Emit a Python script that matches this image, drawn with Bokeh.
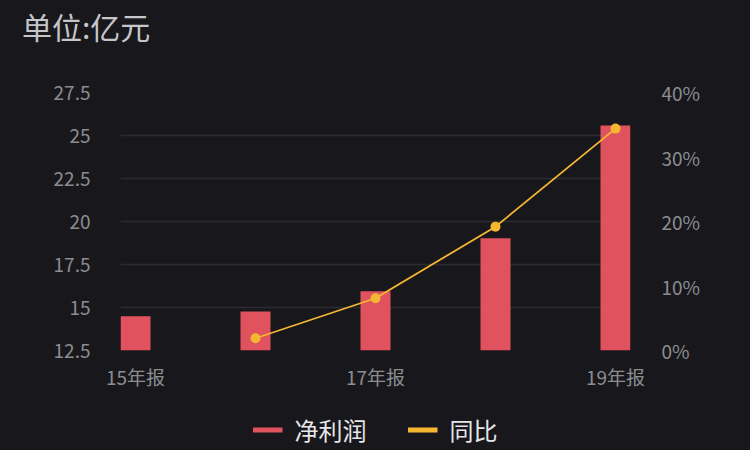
from bokeh.plotting import figure
from bokeh.layouts import column
from bokeh.models import (Range1d, LinearAxis, FixedTicker, Legend, LegendItem,
                          ColumnDataSource, Div)
from bokeh.embed import file_html
from bokeh.resources import INLINE

# ---- data ----
categories = ["15年报", "16年报", "17年报", "18年报", "19年报"]
net_profit = [14.49, 14.77, 15.95, 19.03, 25.58]          # 亿元
yoy_pct = [None, 1.9, 8.1, 19.2, 34.4]                      # %
left_ticks = [12.5, 15, 17.5, 20, 22.5, 25, 27.5]
right_ticks = [0, 10, 20, 30, 40]
shown_x_labels = ["15年报", "17年报", "19年报"]
title_text = "单位:亿元"
series_names = ["净利润", "同比"]

FONT = "Noto Sans CJK SC"
BG = "#18181c"
BAR = "#e0525e"
LINE = "#f5b731"
GRID = "#2b2b31"
TICK = "#8c8c91"

idx = list(range(len(categories)))
lx = [i for i, v in zip(idx, yoy_pct) if v is not None]
ly = [v for v in yoy_pct if v is not None]

# ---- title ----
top = Div(text=title_text, width=750, height=50, margin=0,
          styles={"font-family": FONT, "font-size": "30px", "line-height": "30px",
                  "color": "#c6c6ca", "padding-top": "11px", "padding-left": "22px",
                  "box-sizing": "border-box", "background-color": BG})

# ---- main chart ----
p = figure(width=750, height=358, output_backend="svg", toolbar_location=None,
           x_range=Range1d(-0.125, len(categories) - 1 + 0.125),
           y_range=Range1d(left_ticks[0], left_ticks[-1]),
           min_border_left=120, min_border_right=120,
           min_border_top=42, min_border_bottom=58)
p.background_fill_color = BG
p.border_fill_color = BG
p.outline_line_color = None

p.extra_y_ranges = {"pct": Range1d(right_ticks[0], right_ticks[-1])}

bar_src = ColumnDataSource(dict(x=idx, top=net_profit, bottom=[left_ticks[0]] * len(idx)))
p.vbar(x="x", top="top", bottom="bottom", width=0.25, source=bar_src,
       fill_color=BAR, line_color=None)
p.line(lx, ly, y_range_name="pct", line_color=LINE, line_width=1.8)
p.scatter(lx, ly, y_range_name="pct", size=10, fill_color=LINE, line_color=None)

p.yaxis.ticker = FixedTicker(ticks=left_ticks)
p.yaxis.major_label_overrides = {t: f"{t:g}" for t in left_ticks}
right = LinearAxis(y_range_name="pct", ticker=FixedTicker(ticks=right_ticks))
right.major_label_overrides = {t: f"{t}%" for t in right_ticks}
p.add_layout(right, "right")

xt = [categories.index(c) for c in shown_x_labels]
p.xaxis.ticker = FixedTicker(ticks=xt)
p.xaxis.major_label_overrides = {i: categories[i] for i in xt}

for ax in p.axis:
    ax.axis_line_color = None
    ax.major_tick_line_color = None
    ax.minor_tick_line_color = None
    ax.major_label_text_color = TICK
    ax.major_label_text_font = FONT
    ax.major_label_text_font_size = "19px"
p.yaxis[0].major_label_standoff = 24
right.major_label_standoff = 25
p.xaxis.major_label_standoff = 6

p.xgrid.grid_line_color = None
p.ygrid.grid_line_color = GRID
p.ygrid.grid_line_width = 1.5

# ---- legend strip (series drawn outside its 0..1 view, only legend glyphs show) ----
lg = figure(width=750, height=42, output_backend="svg", toolbar_location=None,
            x_range=Range1d(0, 1), y_range=Range1d(0, 1),
            x_axis_location=None, y_axis_location=None, min_border=0)
lg.background_fill_color = BG
lg.border_fill_color = BG
lg.outline_line_color = None
lg.grid.visible = False
bar_key = lg.line(idx, net_profit, line_color=BAR, line_width=5)
line_key = lg.line(lx, ly, line_color=LINE, line_width=5)
legend = Legend(items=[LegendItem(label=series_names[0], renderers=[bar_key]),
                       LegendItem(label=series_names[1], renderers=[line_key])],
                orientation="horizontal", location="center",
                background_fill_alpha=0,
                border_line_color=None, glyph_width=30, glyph_height=24,
                label_standoff=12, spacing=41, padding=0, margin=0,
                label_text_font=FONT, label_text_font_size="24px",
                label_text_color="#e6e6e8")
lg.add_layout(legend, "center")

layout = column(top, p, lg, spacing=0)
html = file_html(layout, INLINE)
html = html.replace("<head>", "<head><style>html,body{background:%s;}</style>" % BG, 1)
open("out.html", "w").write(html)
